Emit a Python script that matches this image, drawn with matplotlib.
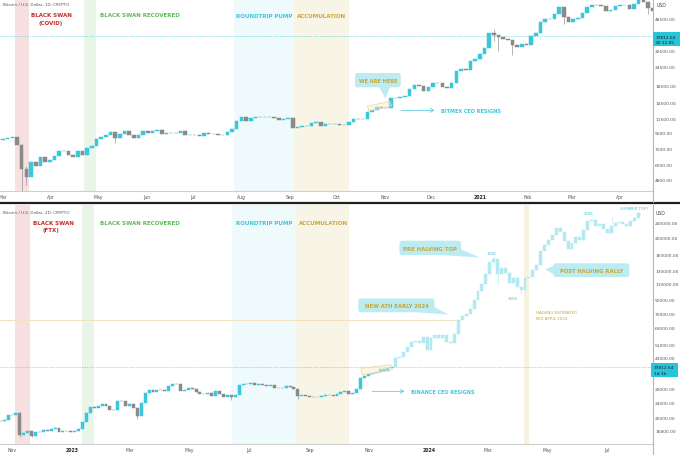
import numpy as np
import pandas as pd
import matplotlib
matplotlib.use('Agg')
import matplotlib.pyplot as plt
import matplotlib.dates as mdates
from matplotlib.patches import FancyBboxPatch, Polygon, Rectangle
from datetime import datetime

# ---------------- DATA ----------------
# Top panel: BTC 2020-2021, one close every 3 days starting 2020-03-01
top_start = '2020-03-01'
top_first_open = 8530
top_close = [8600, 8760, 8900, 7900, 5600, 5000, 6190, 5830, 6690, 6240, 6420,
             6730, 7290, 7300, 6910, 6640, 7250, 6840, 7550, 7790, 8660,
             8900, 9150, 9550, 8800, 9310, 9730, 9080, 8790, 9200, 9700,
             9460, 9660, 9760, 9280, 9400, 9450, 9380, 9630, 9150, 9190,
             9100, 9070, 9430, 9230, 9250, 9150, 9160, 9600, 9930, 11100,
             11800, 11200, 11600, 11900, 11770, 11900, 11750, 11670, 11360, 11480, 11650,
             10170, 10280, 10340, 10440, 10790, 10940, 10420, 10730, 10780, 10780,
             10580, 10600, 11060, 11550, 11500, 11500, 12800, 13030, 13650, 13560,
             13550, 15580, 15480, 15700, 16070, 17650, 18660, 18370, 17150, 18180,
             19200, 19150, 18320, 18040, 19270, 22800, 23480, 23240, 26440, 27360,
             29370, 31970, 39430, 38150, 37320, 36020, 35510, 33000, 32260, 33500, 33110,
             37620, 39250, 46400, 47900, 47900, 52100, 57500, 49700, 46200,
             48400, 48800, 52400, 57200, 59000, 58900, 58100, 54400, 55100, 57700,
             58800, 58800, 56000, 59800, 63500, 61400, 56200, 53800]
top_wick_date = ['2020-03-13', '2020-03-16', '2020-05-12', '2021-01-10', '2021-01-13',
                 '2021-01-22', '2021-02-24', '2021-04-19']
top_wick_low = [3850, 4450, 8200, 35100, 30400, 28900, 45000, 51500]
top_wick_high = [7990, 5900, 9200, 41900, 38200, 33700, 51300, 57000]

# Bottom panel: BTC 2022-2023, one close every 4 days starting 2022-10-20
bot_start = '2022-10-20'
bot_first_open = 19100
bot_close = [19040, 19330, 20590, 20480, 21150, 15880, 16330, 16700, 15780, 16520, 16440,
             16890, 16840, 17090, 17360, 16440, 16780, 16700, 16540,
             16850, 17130, 18850, 21180, 22680, 22630, 23030,
             23730, 22940, 21800, 21790, 24570, 24450, 23170,
             23640, 22430, 20360, 24110, 27420, 28240, 27480, 28350,
             28190, 28040, 29670, 30480, 30390, 27820, 28420, 29230,
             28850, 27690, 26800, 27040, 27120, 26330, 28070,
             26820, 25740, 26480, 25920, 26510, 30080, 30470, 30450,
             31160, 30350, 30620, 30300, 29900, 30080, 29230, 29230,
             29070, 29770, 29410, 28700, 26190, 26450, 26100,
             25800, 25750, 25900, 26220, 26530, 26570, 26300, 26910,
             27430, 27940, 26870, 27160, 28720, 33000, 33900, 34660,
             35050, 35650, 37060, 36160, 37480, 37812.64]
bot_wick_date = ['2022-11-09', '2022-11-21', '2023-03-09', '2023-06-13', '2023-08-20']
bot_wick_low = [15600, 15500, 19600, 24800, 25200]
bot_wick_high = [21450, 16700, 22600, 26600, 28800]

# Projection (light cyan), one close every 4 days starting 2023-11-28
proj_start = '2023-11-28'
proj_close = [42500, 43000, 46000, 49000, 52000, 53000, 51500, 56000, 47500, 55000,
              57000, 55000, 57000, 52500, 51500, 58000, 69000, 73000, 75000, 80000,
              90000, 100000, 110000, 125000, 145000, 152000, 125000, 135000, 126000, 112000,
              118000, 106000, 102000, 118000, 120000, 132000, 140000, 168000, 182000, 192000,
              205000, 225000, 215000, 190000, 172000, 185000, 200000, 192000, 220000, 245000,
              250000, 232000, 236000, 222000, 210000, 230000, 240000, 242000, 236000, 232000,
              245000, 255000, 272000]
proj_wick_date = ['2024-03-07', '2024-03-11', '2024-04-04', '2024-07-06']
proj_wick_low = [140000, 108000, 97000, 240000]
proj_wick_high = [157000, 128000, 106000, 258000]

current_price = 37812.64
ath_price = 69000

top_yticks = [4800, 6000, 7500, 9500, 11500, 14500, 18500, 24500, 30500, 48500]
bot_yticks = [16800, 20000, 24000, 29000, 43000, 51000, 63000, 75000, 90000,
              110000, 130000, 160000, 200000, 240000]
top_xtick_dates = ['2020-03-01', '2020-04-01', '2020-05-01', '2020-06-01', '2020-07-01',
                   '2020-08-01', '2020-09-01', '2020-10-01', '2020-11-01', '2020-12-01',
                   '2021-01-01', '2021-02-01', '2021-03-01', '2021-04-01']
top_xtick_labels = ['Mar', 'Apr', 'May', 'Jun', 'Jul', 'Aug', 'Sep', 'Oct', 'Nov', 'Dec',
                    '2021', 'Feb', 'Mar', 'Apr']
bot_xtick_dates = ['2022-11-01', '2023-01-01', '2023-03-01', '2023-05-01', '2023-07-01',
                   '2023-09-01', '2023-11-01', '2024-01-01', '2024-03-01', '2024-05-01',
                   '2024-07-01']
bot_xtick_labels = ['Nov', '2023', 'Mar', 'May', 'Jul', 'Sep', 'Nov', '2024', 'Mar', 'May', 'Jul']

# event bands (start, end)
top_bands = [('2020-03-09', '2020-03-18', '#f6e1e0'), ('2020-04-22', '2020-04-30', '#e9f5e9'),
             ('2020-07-27', '2020-09-04', '#eefafc'), ('2020-09-04', '2020-10-09', '#f8f4e6')]
bot_bands = [('2022-11-04', '2022-11-19', '#f6e1e0'), ('2023-01-12', '2023-01-24', '#e9f5e9'),
             ('2023-06-14', '2023-08-18', '#eefafc'), ('2023-08-18', '2023-10-11', '#f8f4e6'),
             ('2024-04-07', '2024-04-12', '#f7f1df')]

# ---------------- STYLE ----------------
W, H = 680, 456
UP = '#3cc6dc'
DOWN = '#8a8a8a'
PROJ = '#b4e9f1'
CYAN = '#3cc6dc'
GOLD = '#c9a632'
RED = '#c62828'
GREEN = '#5cb85c'
plt.rcParams['font.family'] = ['DejaVu Sans']

fig = plt.figure(figsize=(W / 100, H / 100), dpi=100)
fig.patch.set_facecolor('white')

ax1 = fig.add_axes([0, 1 - 192 / H, 653 / W, 192 / H])
ax2 = fig.add_axes([0, 1 - 445 / H, 653 / W, (445 - 206) / H])

t0 = mdates.date2num(datetime(2020, 3, 1)) - 3 / 1.558
ax1.set_xlim(t0, t0 + 653 / 1.558)
b0 = mdates.date2num(datetime(2022, 11, 1)) - 12 / 0.979
ax2.set_xlim(b0, b0 + 653 / 0.979)
ax1.set_yscale('log')
ax2.set_yscale('log')
ax1.set_ylim(4096, 64250)
ax2.set_ylim(14190, 302000)


def candles(ax, start, step, closes, first_open, width, up, down):
    dates = pd.date_range(start, periods=len(closes), freq=f'{step}D')
    x = mdates.date2num(dates)
    closes = np.asarray(closes, float)
    opens = np.r_[first_open, closes[:-1]]
    lo = np.minimum(opens, closes)
    hi = np.maximum(opens, closes)
    cols = [up if c >= o else down for o, c in zip(opens, closes)]
    ax.bar(x, hi - lo, bottom=lo, width=width, color=cols, edgecolor=cols,
           linewidth=0.35, zorder=3)
    return dict(zip(dates.strftime('%Y-%m-%d'), cols))


def wicks(ax, dates, lows, highs, colmap, default):
    x = mdates.date2num(pd.to_datetime(dates))
    cols = [colmap.get(d, default) for d in dates]
    ax.vlines(x, lows, highs, colors=cols, linewidth=0.45, zorder=2.5)


for s, e, c in top_bands:
    ax1.axvspan(mdates.date2num(pd.Timestamp(s)), mdates.date2num(pd.Timestamp(e)),
                color=c, zorder=0, lw=0)
for s, e, c in bot_bands:
    ax2.axvspan(mdates.date2num(pd.Timestamp(s)), mdates.date2num(pd.Timestamp(e)),
                color=c, zorder=0, lw=0)

cm1 = candles(ax1, top_start, 3, top_close, top_first_open, 2.3, UP, DOWN)
wicks(ax1, top_wick_date, top_wick_low, top_wick_high, cm1, DOWN)
cm2 = candles(ax2, bot_start, 4, bot_close, bot_first_open, 3.0, UP, DOWN)
wicks(ax2, bot_wick_date, bot_wick_low, bot_wick_high, cm2, DOWN)
cm3 = candles(ax2, proj_start, 4, proj_close, bot_close[-1], 3.0, PROJ, PROJ)
wicks(ax2, proj_wick_date, proj_wick_low, proj_wick_high, cm3, PROJ)

for ax in (ax1, ax2):
    ax.axhline(current_price, color=CYAN, lw=0.5, ls=(0, (1, 1.5)), zorder=1)
ax2.hlines(ath_price, b0, mdates.date2num(datetime(2024, 1, 29)), color='#f3e2c0',
           lw=0.8, zorder=1)

for ax, yt, xd, xl in ((ax1, top_yticks, top_xtick_dates, top_xtick_labels),
                       (ax2, bot_yticks, bot_xtick_dates, bot_xtick_labels)):
    ax.set_facecolor('none')
    ax.yaxis.tick_right()
    ax.yaxis.set_minor_locator(matplotlib.ticker.NullLocator())
    ax.set_yticks(yt)
    ax.set_yticklabels(['%.2f' % v for v in yt])
    ax.set_xticks(mdates.date2num(pd.to_datetime(xd)))
    ax.set_xticklabels(xl)
    ax.xaxis.set_minor_locator(matplotlib.ticker.NullLocator())
    ax.tick_params(axis='y', length=0, pad=1.5, labelsize=3.2, labelcolor='#555555')
    ax.tick_params(axis='x', length=0, pad=2.2, labelsize=3.3, labelcolor='#555555')
    for lab in ax.get_xticklabels():
        if lab.get_text().isdigit():
            lab.set_fontweight('bold')
            lab.set_color('#222222')
    for sp in ('top', 'left'):
        ax.spines[sp].set_visible(False)
    ax.spines['right'].set_color('#b5b5b5')
    ax.spines['right'].set_linewidth(0.8)
    ax.spines['bottom'].set_color('#cfcfcf')
    ax.spines['bottom'].set_linewidth(0.8)

# ---------------- OVERLAY (annotations in pixel coords) ----------------
ov = fig.add_axes([0, 0, 1, 1], zorder=10)
ov.set_xlim(0, W)
ov.set_ylim(H, 0)
ov.axis('off')
ov.patch.set_visible(False)

ov.plot([0, W], [204, 204], color='#1e1e1e', lw=1.6, solid_capstyle='butt')
ov.plot([653, 653], [192, 203], color='#b5b5b5', lw=0.8)
ov.plot([653, 653], [445, 456], color='#b5b5b5', lw=0.8)


def txt(x, y, s, size, color, weight='bold', ha='center', **kw):
    ov.text(x, y, s, fontsize=size, color=color, fontweight=weight, ha=ha, va='center', **kw)


def callout(x0, y0, x1, y1, tail, text, size):
    ov.add_patch(FancyBboxPatch((x0, y0), x1 - x0, y1 - y0,
                                boxstyle='round,pad=0,rounding_size=2.5',
                                fc='#bdebf2', ec='none', zorder=5))
    ov.add_patch(Polygon(tail, closed=True, fc='#bdebf2', ec='none', zorder=5))
    txt((x0 + x1) / 2, (y0 + y1) / 2 + 0.3, text, size, GOLD, zorder=6)


# top panel
txt(3, 5, 'Bitcoin / U.S. Dollar, 1D, CRYPTO', 3.0, '#555555', weight='normal', ha='left')
txt(51.5, 15.5, 'BLACK SWAN', 4.0, RED)
txt(50.5, 23, '(COVID)', 4.0, RED)
txt(140, 15.5, 'BLACK SWAN RECOVERED', 4.0, GREEN)
txt(264, 16, 'ROUNDTRIP PUMP', 4.0, CYAN)
txt(322, 16, 'ACCUMULATION', 4.0, GOLD)
callout(355, 74, 400.7, 88.3, [(379, 88), (390, 88), (385.5, 99.5)], 'WE ARE HERE', 3.6)
ov.add_patch(Polygon([(367.3, 107.3), (390, 102.3), (391.7, 106.9), (369.0, 112)], closed=True,
                     fc=(0.98, 0.93, 0.78, 0.45), ec='#e6d5a5', lw=0.5, zorder=4))
ov.annotate('', xy=(437, 111.3), xytext=(398.3, 111.3),
            arrowprops=dict(arrowstyle='->,head_length=0.25,head_width=0.15', color=CYAN, lw=0.5))
txt(441, 111.3, 'BITMEX CEO RESIGNS', 3.5, CYAN, ha='left')
txt(657, 5.5, 'USD', 3.3, '#444444', weight='normal', ha='left')
ov.add_patch(Rectangle((653.3, 33.3), 26.7, 14, fc='#26c6da', ec='none', zorder=5))
txt(656, 37.8, '37812.64', 3.1, '#1a1a1a', weight='normal', ha='left', zorder=6)
txt(656, 43.3, '02:11:05', 3.1, '#1a1a1a', weight='normal', ha='left', zorder=6)

# bottom panel
txt(3, 213, 'Bitcoin / U.S. Dollar, 2D, CRYPTO', 3.0, '#555555', weight='normal', ha='left')
txt(53.7, 223.3, 'BLACK SWAN', 4.0, RED)
txt(50.7, 230.7, '(FTX)', 4.0, RED)
txt(140, 223.3, 'BLACK SWAN RECOVERED', 4.0, GREEN)
txt(264.3, 223.3, 'ROUNDTRIP PUMP', 4.0, CYAN)
txt(323.7, 223.3, 'ACCUMULATION', 4.0, GOLD)
callout(399.5, 241.7, 461, 256, [(440, 256), (460, 250), (480, 258.5)], 'PRE HALVING TOP', 3.9)
callout(358.3, 299.5, 434.5, 313.3, [(418, 313.3), (434, 308), (448.5, 315.5)],
        'NEW ATH EARLY 2024', 3.8)
callout(553.3, 264.3, 629.3, 278, [(554, 266.5), (554, 275.5), (545.5, 270.5)],
        'POST HALVING RALLY', 3.8)
txt(491, 254.3, '150K', 2.8, CYAN, weight='normal')
txt(512.5, 298.7, '100K', 2.8, CYAN, weight='normal')
txt(588.3, 214, '250K', 2.8, CYAN, weight='normal')
txt(634.3, 209.3, 'SUMMER TOP?', 2.8, CYAN, weight='normal')
txt(536, 313.3, 'HALVING ESTIMATED', 2.9, GOLD, weight='normal', ha='left')
txt(536, 318.8, 'MID APRIL 2024', 2.9, GOLD, weight='normal', ha='left')
ov.add_patch(Polygon([(361, 369.3), (391, 365.7), (392.3, 371), (362.3, 376)], closed=True,
                     fc=(0.98, 0.93, 0.78, 0.45), ec='#e6d5a5', lw=0.5, zorder=4))
ov.annotate('', xy=(407, 392.3), xytext=(369.3, 392.3),
            arrowprops=dict(arrowstyle='->,head_length=0.25,head_width=0.15', color=CYAN, lw=0.5))
txt(411, 392.3, 'BINANCE CEO RESIGNS', 3.5, CYAN, ha='left')
txt(656, 214, 'USD', 3.3, '#444444', weight='normal', ha='left')
ov.add_patch(Rectangle((651, 364.3), 26.5, 14, fc='#26c6da', ec='none', zorder=5))
txt(653.5, 368.5, '37812.64', 3.1, '#1a1a1a', weight='normal', ha='left', zorder=6)
txt(653.5, 374.2, '1d 3h', 3.1, '#1a1a1a', weight='normal', ha='left', zorder=6)

fig.savefig('out.png', dpi=100)
